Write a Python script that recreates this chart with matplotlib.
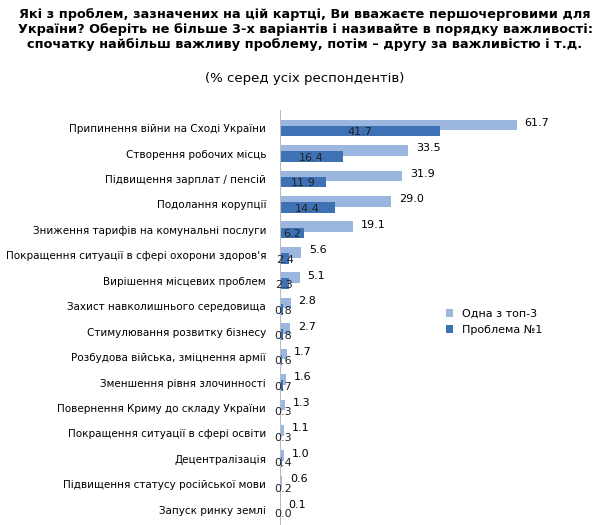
import matplotlib.pyplot as plt
import numpy as np

categories = [
    "Припинення війни на Сході України",
    "Створення робочих місць",
    "Підвищення зарплат / пенсій",
    "Подолання корупції",
    "Зниження тарифів на комунальні послуги",
    "Покращення ситуації в сфері охорони здоров'я",
    "Вирішення місцевих проблем",
    "Захист навколишнього середовища",
    "Стимулювання розвитку бізнесу",
    "Розбудова війська, зміцнення армії",
    "Зменшення рівня злочинності",
    "Повернення Криму до складу України",
    "Покращення ситуації в сфері освіти",
    "Децентралізація",
    "Підвищення статусу російської мови",
    "Запуск ринку землі",
]
top3 = [61.7, 33.5, 31.9, 29.0, 19.1, 5.6, 5.1, 2.8, 2.7, 1.7, 1.6, 1.3, 1.1, 1.0, 0.6, 0.1]
first = [41.7, 16.4, 11.9, 14.4, 6.2, 2.4, 2.3, 0.8, 0.8, 0.6, 0.7, 0.3, 0.3, 0.4, 0.2, 0.0]

light = "#9bb7e0"
dark = "#3f72b5"

fig = plt.figure(figsize=(6.1, 5.25), dpi=100)
fig.text(0.5, 0.985, "Які з проблем, зазначених на цій картці, Ви вважаєте першочерговими для\n"
         "України? Оберіть не більше 3-х варіантів і називайте в порядку важливості:\n"
         "спочатку найбільш важливу проблему, потім – другу за важливістю і т.д.",
         ha="center", va="top", fontsize=9.3, fontweight="bold", linespacing=1.2)
fig.text(0.5, 0.85, "(% серед усіх респондентів)", ha="center", va="center", fontsize=9.5)

ax = fig.add_axes([0.459, 0.0, 0.44, 0.79])
y = np.arange(len(categories))
ax.barh(y - 0.12, top3, height=0.42, color=light, label="Одна з топ-3")
ax.barh(y + 0.12, first, height=0.42, color=dark, label="Проблема №1")
for yi, a, b in zip(y, top3, first):
    ax.text(a + 2, yi - 0.2, f"{a:.1f}", va="center", fontsize=8)
    ax.text(max(b / 2, 0.8), yi + 0.17, f"{b:.1f}", va="center", ha="center", fontsize=8,
            color="#222222")
ax.set_yticks(y)
ax.set_yticklabels(categories, fontsize=7.5)
ax.tick_params(axis="y", length=0, pad=10)
ax.set_ylim(len(categories) - 0.4, -0.7)
ax.set_xlim(0, 70)
ax.set_xticks([])
for s in ["top", "right", "bottom"]:
    ax.spines[s].set_visible(False)
ax.spines["left"].set_color("#bbbbbb")
ax.legend(loc="center left", bbox_to_anchor=(0.58, 0.49), frameon=False, fontsize=8,
          handlelength=0.7, handleheight=0.7)

fig.savefig("out.png", dpi=100)
